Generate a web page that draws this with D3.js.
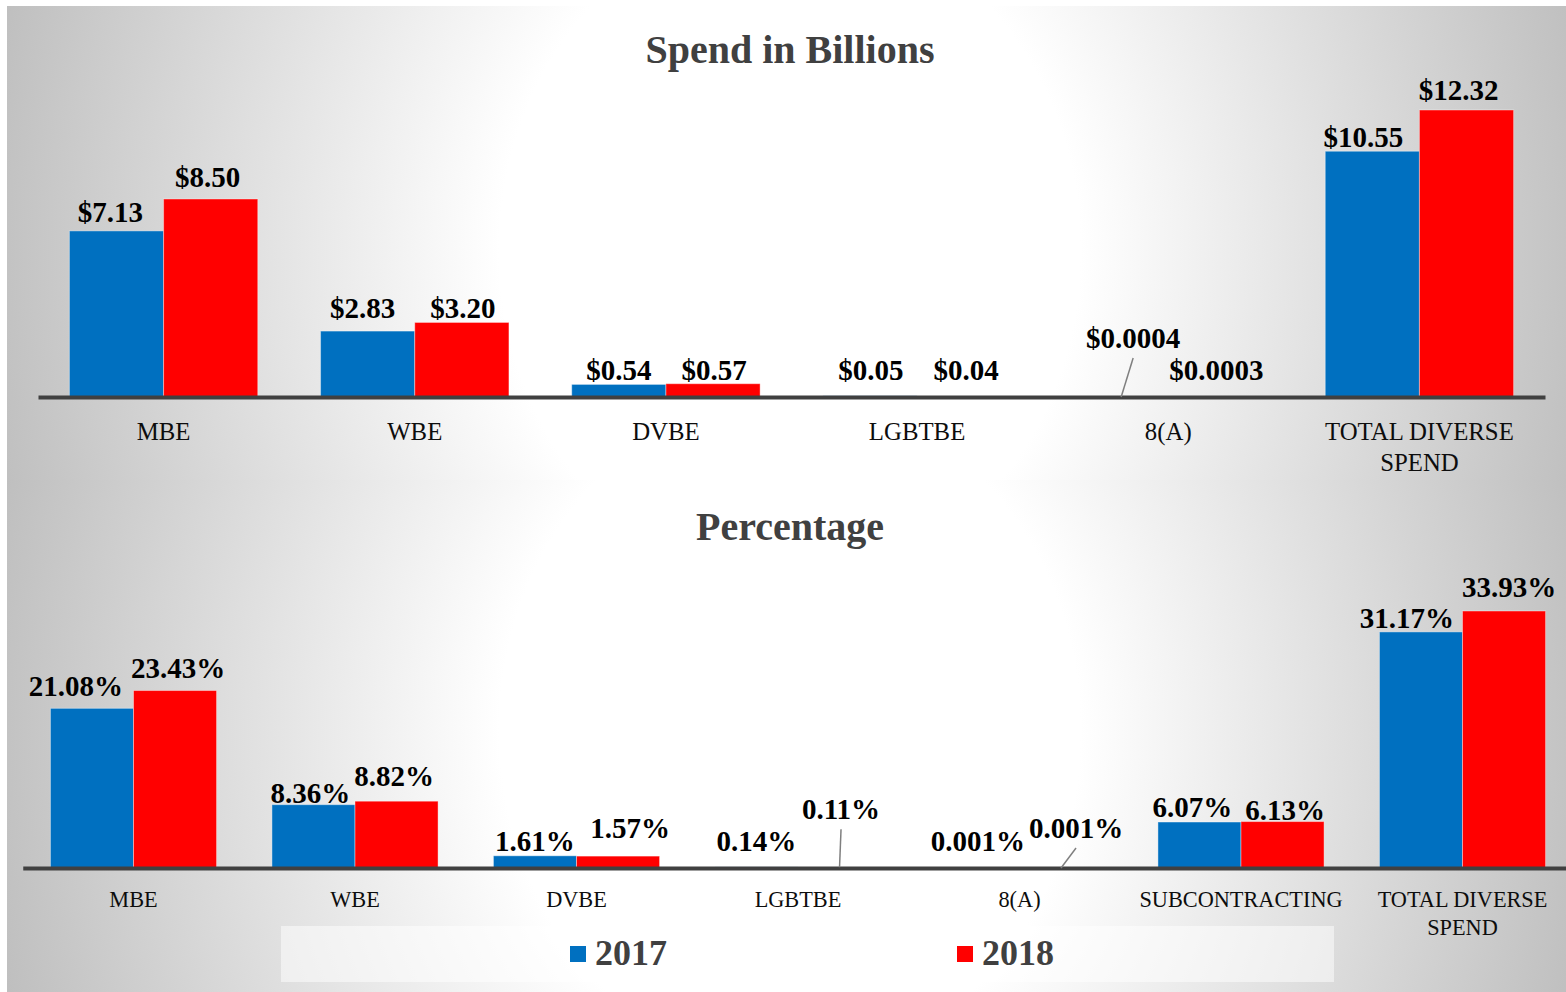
<!DOCTYPE html>
<html><head><meta charset="utf-8">
<script src="https://cdn.jsdelivr.net/npm/d3@7"></script>
<style>body{margin:0;background:#fff}svg{display:block}</style>
</head><body><svg id="c" width="1566" height="992"></svg>
<script>
// ---------- data ----------
const series = ["2017", "2018"];

const spendCategories = ["MBE", "WBE", "DVBE", "LGBTBE", "8(A)", "TOTAL DIVERSE SPEND"];
const spend2017 = [7.13, 2.83, 0.54, 0.05, 0.0004, 10.55];
const spend2018 = [8.50, 3.20, 0.57, 0.04, 0.0003, 12.32];
const spendLabels2017 = ["$7.13", "$2.83", "$0.54", "$0.05", "$0.0004", "$10.55"];
const spendLabels2018 = ["$8.50", "$3.20", "$0.57", "$0.04", "$0.0003", "$12.32"];

const pctCategories = ["MBE", "WBE", "DVBE", "LGBTBE", "8(A)", "SUBCONTRACTING", "TOTAL DIVERSE SPEND"];
const pct2017 = [21.08, 8.36, 1.61, 0.14, 0.001, 6.07, 31.17];
const pct2018 = [23.43, 8.82, 1.57, 0.11, 0.001, 6.13, 33.93];
const pctLabels2017 = ["21.08%", "8.36%", "1.61%", "0.14%", "0.001%", "6.07%", "31.17%"];
const pctLabels2018 = ["23.43%", "8.82%", "1.57%", "0.11%", "0.001%", "6.13%", "33.93%"];

// ---------- layout (label nudges relative to default spot, leader lines) ----------
const spendNudge = [
  [[-6,-1],[-5,-5],[0,4],[1,-8],[12,-41],[-9,4]],
  [[-3,-4],[1,4],[1,4],[2,-8],[1,-9],[-8,-2]]
];
const spendLeaders = [[4], []];
const pctNudge = [
  [[-16,-4],[-3,6],[0,3],[0,-8],[0,-9],[-7,3],[-14,4]],
  [[3,-4.5],[-2.5,-7],[12,-10],[1.5,-40],[15,-22],[2.5,6],[5,-6]]
];
const pctLeaders = [[], [3, 4]];

const colors = {"2017": "#0070C0", "2018": "#FF0000"};
const FONT = "'Liberation Serif', 'Times New Roman', serif";

const svg = d3.select("#c");
const defs = svg.append("defs");

function grad(id, cx, cy) {
  const g = defs.append("radialGradient").attr("id", id)
    .attr("gradientUnits", "userSpaceOnUse")
    .attr("cx", cx).attr("cy", cy).attr("r", 830)
    .attr("gradientTransform", `translate(${cx},${cy}) scale(1,1.15) translate(${-cx},${-cy})`);
  g.append("stop").attr("offset", 0).attr("stop-color", "#ffffff");
  g.append("stop").attr("offset", 0.35).attr("stop-color", "#ffffff");
  g.append("stop").attr("offset", 1).attr("stop-color", "#bdbdbd");
}
grad("gTop", 790, 250);
grad("gBot", 790, 730);

svg.append("rect").attr("x", 7).attr("y", 6).attr("width", 1559).attr("height", 474).attr("fill", "url(#gTop)");
svg.append("rect").attr("x", 7).attr("y", 480).attr("width", 1559).attr("height", 512).attr("fill", "url(#gBot)");

function drawPanel(cfg) {
  const g = svg.append("g");
  const vals = [cfg.v2017, cfg.v2018];
  const maxV = d3.max(vals.flat());
  const y = d3.scaleLinear().domain([0, maxV]).range([cfg.base, cfg.topY]);
  const x0 = d3.scaleBand().domain(cfg.cats).range([cfg.x0, cfg.x1]).padding(0);
  const step = x0.step();
  const x1 = d3.scaleBand().domain(series).range([0, step * 0.75]).padding(0);
  const off = step * 0.125;

  // title
  g.append("text").attr("x", 790).attr("y", cfg.titleY).attr("text-anchor", "middle")
    .attr("font-family", FONT).attr("font-weight", "bold").attr("font-size", 40)
    .attr("fill", "#404040").text(cfg.title);

  // bars
  series.forEach((s, si) => {
    g.selectAll(null).data(cfg.cats).enter().append("rect")
      .attr("x", c => x0(c) + off + x1(s))
      .attr("width", x1.bandwidth())
      .attr("y", (c, i) => y(vals[si][i]))
      .attr("height", (c, i) => cfg.base - y(vals[si][i]))
      .attr("fill", colors[s])
      .attr("stroke", "rgba(255,255,255,0.4)").attr("stroke-width", 1);
  });

  // axis
  const ax = g.append("g").attr("transform", `translate(0,${cfg.base})`)
    .call(d3.axisBottom(x0).tickSize(0).tickSizeOuter(0));
  ax.select(".domain").attr("stroke", "#404040").attr("stroke-width", 4);
  ax.selectAll(".tick text").each(function(d) {
    const t = d3.select(this);
    t.text(null).attr("dy", null).attr("y", cfg.catDY)
      .attr("font-family", FONT).attr("font-size", cfg.catSize).attr("fill", "#0d0d0d");
    const words = d.split(" ");
    let lines = [], cur = "";
    const tmp = t.append("tspan");
    words.forEach(w => {
      const test = cur ? cur + " " + w : w;
      tmp.text(test);
      if (tmp.node().getComputedTextLength() > step * 0.95 && cur) { lines.push(cur); cur = w; }
      else cur = test;
    });
    lines.push(cur);
    tmp.remove();
    lines.forEach((l, li) => {
      t.append("tspan").attr("x", 0).attr("y", cfg.catDY + li * cfg.catLH).text(l);
    });
  });

  // value labels + leaders
  series.forEach((s, si) => {
    cfg.cats.forEach((c, i) => {
      const cx = x0(c) + off + x1(s) + x1.bandwidth() / 2;
      const v = vals[si][i];
      const [dx, dy] = cfg.nudge[si][i];
      const lx = cx + dx, ly = y(v) - 8 + dy;
      if (cfg.leaders[si].includes(i)) {
        g.append("line").attr("x1", lx).attr("y1", ly + 10).attr("x2", cx).attr("y2", y(v))
          .attr("stroke", "#7f7f7f").attr("stroke-width", 1.5);
      }
      g.append("text").attr("x", lx).attr("y", ly).attr("text-anchor", "middle")
        .attr("font-family", FONT).attr("font-weight", "bold").attr("font-size", 29)
        .attr("fill", "#000").text(cfg.labels[si][i]);
    });
  });
}

drawPanel({
  title: "Spend in Billions", titleY: 63,
  cats: spendCategories, v2017: spend2017, v2018: spend2018,
  labels: [spendLabels2017, spendLabels2018], nudge: spendNudge, leaders: spendLeaders,
  x0: 38, x1: 1545, base: 397, topY: 110,
  catDY: 43, catLH: 31, catSize: 24.8
});

drawPanel({
  title: "Percentage", titleY: 540,
  cats: pctCategories, v2017: pct2017, v2018: pct2018,
  labels: [pctLabels2017, pctLabels2018], nudge: pctNudge, leaders: pctLeaders,
  x0: 22.75, x1: 1573.25, base: 868, topY: 611,
  catDY: 39, catLH: 28, catSize: 22.3
});

// legend
const lg = svg.append("g");
lg.append("rect").attr("x", 281).attr("y", 926).attr("width", 1053).attr("height", 56)
  .attr("fill", "#ffffff").attr("fill-opacity", 0.5);
const lx = d3.scalePoint().domain(series).range([570, 957]);
series.forEach(s => {
  lg.append("rect").attr("x", lx(s)).attr("y", 946).attr("width", 16).attr("height", 16).attr("fill", colors[s]);
  lg.append("text").attr("x", lx(s) + 25).attr("y", 965)
    .attr("font-family", FONT).attr("font-weight", "bold").attr("font-size", 36)
    .attr("fill", "#404040").text(s);
});
</script></body></html>
